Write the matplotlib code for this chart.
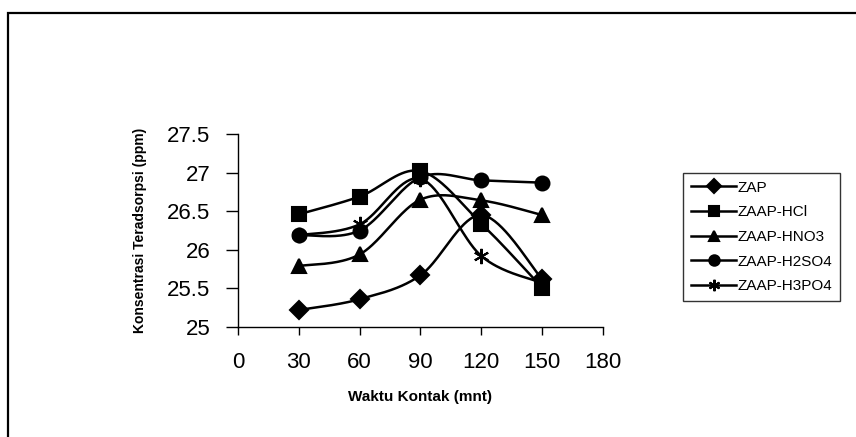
import matplotlib
matplotlib.use("Agg")
import matplotlib.pyplot as plt
import numpy as np
from matplotlib.patches import Rectangle

plt.rcParams["font.family"] = ["Liberation Sans", "DejaVu Sans"]

# contact time (minutes)
waktu = [30, 60, 90, 120, 150]

zap = [25.22, 25.36, 25.67, 26.45, 25.62]
zaap_hcl = [26.46, 26.69, 27.02, 26.34, 25.51]
zaap_hno3 = [25.79, 25.94, 26.65, 26.64, 26.45]
zaap_h2so4 = [26.19, 26.25, 26.94, 26.90, 26.87]
zaap_h3po4 = [26.19, 26.33, 26.92, 25.92, 25.57]

series = [
    ("ZAP", zap, "D", 9),
    ("ZAAP-HCl", zaap_hcl, "s", 10),
    ("ZAAP-HNO3", zaap_hno3, "^", 10),
    ("ZAAP-H2SO4", zaap_h2so4, "o", 10),
    ("ZAAP-H3PO4", zaap_h3po4, (6, 2, 0), 11),
]


def smooth(xs, ys, n=40):
    # catmull-rom through the points, end points repeated (spreadsheet style)
    p = np.column_stack([xs, ys]).astype(float)
    p = np.vstack([p[0], p, p[-1]])
    out = []
    for i in range(1, len(p) - 2):
        p0, p1, p2, p3 = p[i - 1], p[i], p[i + 1], p[i + 2]
        c1 = p1 + (p2 - p0) / 6
        c2 = p2 - (p3 - p1) / 6
        t = np.linspace(0, 1, n)[:, None]
        seg = ((1 - t) ** 3 * p1 + 3 * (1 - t) ** 2 * t * c1
               + 3 * (1 - t) * t ** 2 * c2 + t ** 3 * p2)
        out.append(seg)
    out = np.vstack(out)
    return out[:, 0], out[:, 1]


fig = plt.figure(figsize=(8.56, 4.37), dpi=100)
ax = fig.add_axes([0.278, 0.2517, 0.4264, 0.4416])

handles = []
for name, vals, mk, ms in series:
    sx, sy = smooth(waktu, vals)
    ax.plot(sx, sy, color="black", lw=1.8, zorder=2)
    ax.plot(waktu, vals, ls="none", marker=mk, ms=ms, color="black",
            mec="black", mew=1.5, zorder=3)
    h, = ax.plot([], [], color="black", lw=1.8, marker=mk, ms=ms * 0.75,
                 mew=1.5, label=name)
    handles.append(h)

ax.set_xlim(0, 180)
ax.set_ylim(25, 27.5)
ax.set_xticks(range(0, 181, 30))
ax.set_yticks([25, 25.5, 26, 26.5, 27, 27.5])
ax.set_yticklabels(["25", "25.5", "26", "26.5", "27", "27.5"])
ax.tick_params(axis="y", direction="out", length=9, width=1, pad=11, labelsize=16)
ax.tick_params(axis="x", direction="out", length=6, width=1, pad=12, labelsize=16)
for side in ("top", "right"):
    ax.spines[side].set_visible(False)
for side in ("left", "bottom"):
    ax.spines[side].set_linewidth(1)

ax.set_xlabel("Waktu Kontak (mnt)", fontsize=11, fontweight="bold", labelpad=12)
ax.set_ylabel("Konsentrasi Teradsorpsi (ppm)", fontsize=10, fontweight="bold", labelpad=14)

leg = fig.legend(handles=handles, loc="upper left",
                 bbox_to_anchor=(683 / 856, 1 - 173 / 437), fontsize=11,
                 frameon=True, fancybox=False, edgecolor="black",
                 handlelength=3.0, handletextpad=0.1, labelspacing=0.7,
                 borderpad=0.5, borderaxespad=0)
leg.get_frame().set_linewidth(1)

# outer chart frame, open to the right and bottom
fig.add_artist(Rectangle((8 / 856, -0.1), 1.2, 1 - 13 / 437 + 0.1,
                         transform=fig.transFigure, fill=False,
                         ec="black", lw=1.6))

fig.savefig("out.png", dpi=100)
